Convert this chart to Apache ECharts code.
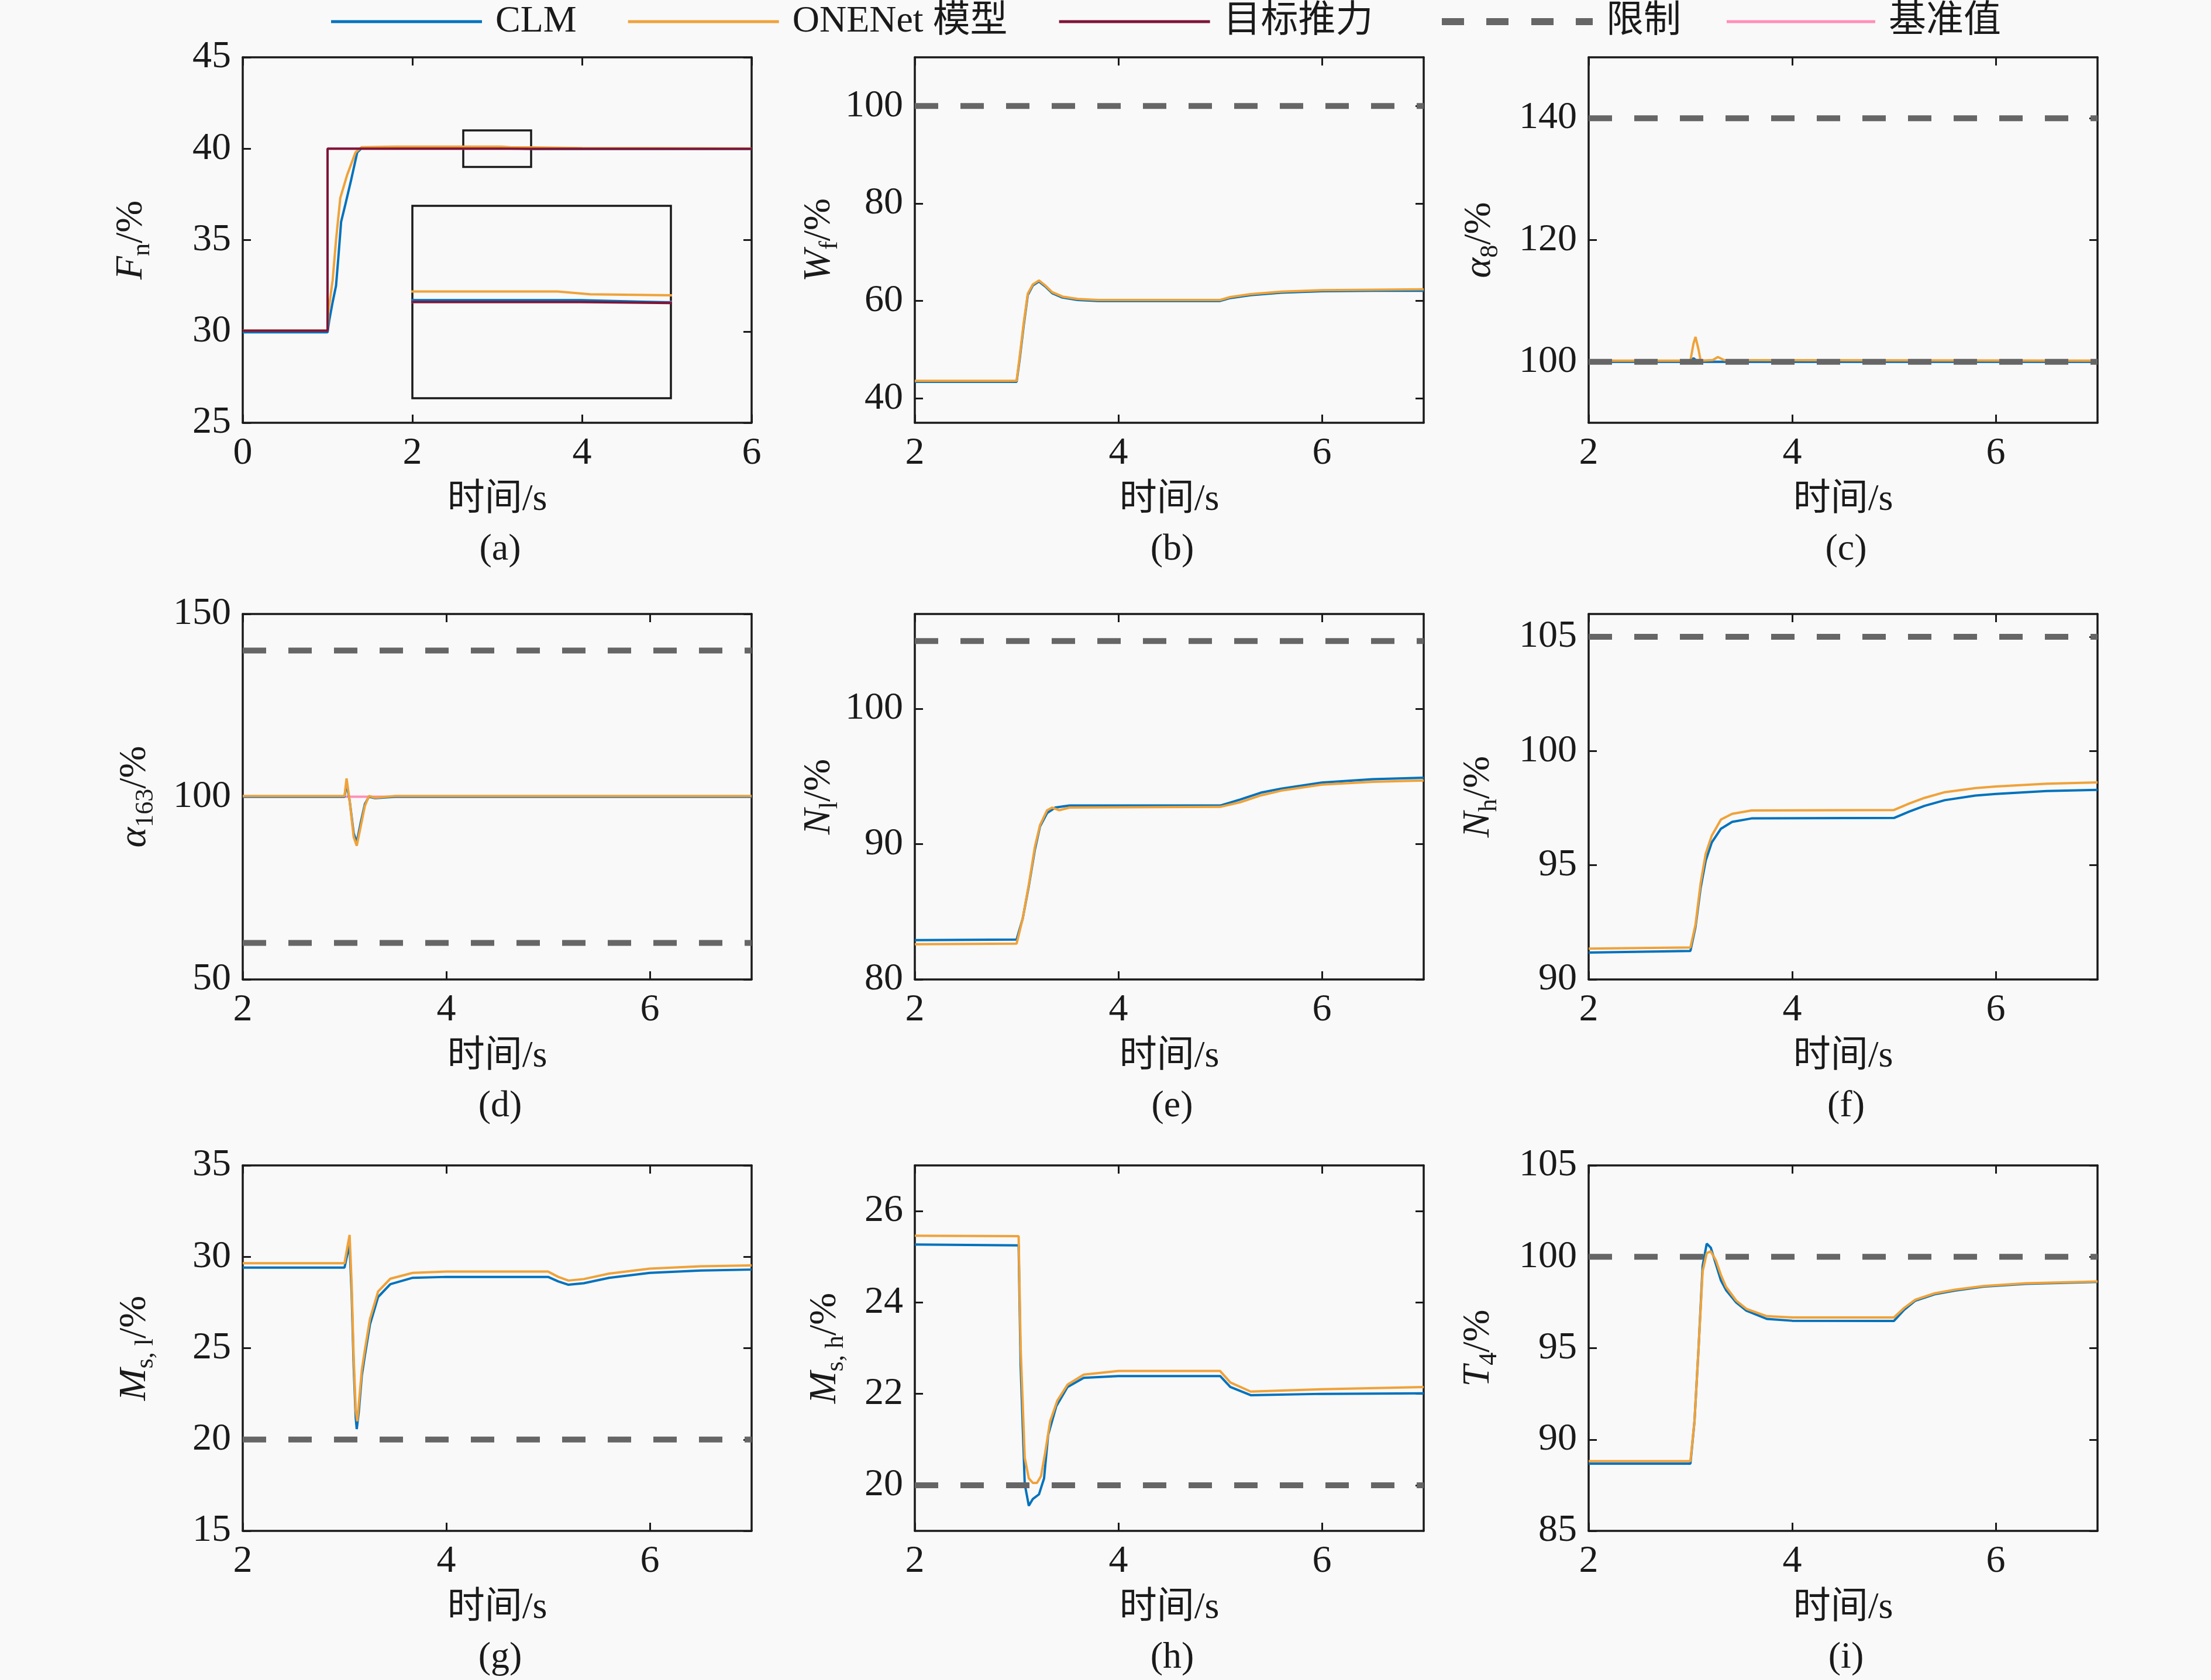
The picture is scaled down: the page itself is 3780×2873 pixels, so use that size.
<!DOCTYPE html>
<html>
<head>
<meta charset="utf-8">
<title>仿真曲线</title>
<script src="https://cdn.jsdelivr.net/npm/echarts@6/dist/echarts.min.js"></script>
<style>
html, body { margin: 0; padding: 0; background: #f9f9f9; }
#main { width: 3780px; height: 2873px; }
</style>
</head>
<body>
<div id="main"></div>
<script type="text/javascript">
// ---- data: [time s, value %] ----
var fnClm = [[0,29.95],[1.0,29.95],[1.02,30.6],[1.06,31.6],[1.10,32.5],[1.13,34.2],[1.16,36.0],[1.21,36.95],[1.28,38.33],[1.35,39.8],[1.4,40.02],[3.12,40.02],[3.4,39.995],[6,39.995]];
var fnOne = [[0,30.05],[1.0,30.05],[1.01,31.1],[1.06,32.8],[1.10,35.0],[1.15,37.3],[1.23,38.55],[1.33,39.8],[1.4,40.08],[1.8,40.11],[3.05,40.11],[3.15,40.08],[3.4,40.07],[4,40.03],[6,40.01]];
var fnTarget = [[0,30.04],[1.0,30.04],[1.0,40.0],[3.12,40.0],[3.4,39.99],[6,39.99]];
var fnBase = [[0,30.0],[1.0,30.0],[1.0,40.0],[6,40.0]];

var wfClm = [[2,43.4],[3.0,43.4],[3.03,48],[3.07,55],[3.11,61.2],[3.16,63.2],[3.22,64.0],[3.28,63.0],[3.35,61.6],[3.45,60.7],[3.6,60.2],[3.8,60.0],[5.0,60.0],[5.1,60.6],[5.3,61.2],[5.6,61.7],[6.0,62.0],[6.5,62.1],[7,62.1]];
var wfOne = [[2,43.6],[3.0,43.6],[3.03,48.5],[3.07,55.5],[3.11,61.5],[3.16,63.4],[3.22,64.2],[3.28,63.2],[3.35,61.8],[3.45,60.9],[3.6,60.4],[3.8,60.2],[5.0,60.2],[5.1,60.8],[5.3,61.4],[5.6,61.9],[6.0,62.2],[6.5,62.3],[7,62.4]];
var wfLimits = [100];

var a8Clm = [[2,100],[3.0,100],[3.03,100.6],[3.06,100.2],[3.1,100],[7,100]];
var a8One = [[2,100.2],[3.0,100.2],[3.03,103],[3.05,104.1],[3.08,102],[3.1,100.2],[3.22,100.3],[3.27,100.8],[3.33,100.3],[7,100.2]];
var a8Base = [[2,100],[7,100]];
var a8Limits = [140, 100];

var a163Clm = [[2,100],[3.0,100],[3.02,103.5],[3.05,99],[3.09,90],[3.12,87.5],[3.16,93],[3.2,98],[3.24,100],[3.3,99.6],[3.5,100],[7,100]];
var a163One = [[2,100.2],[3.0,100.2],[3.02,105],[3.05,99],[3.09,89],[3.12,86.6],[3.16,92],[3.2,97.5],[3.24,100.2],[3.3,99.7],[3.5,100.2],[7,100.2]];
var a163Base = [[2,100],[7,100]];
var a163Limits = [140, 60];

var nlClm = [[2,82.9],[3.0,82.95],[3.06,84.5],[3.12,86.9],[3.18,89.6],[3.23,91.3],[3.3,92.3],[3.38,92.7],[3.52,92.85],[5.0,92.85],[5.2,93.3],[5.4,93.8],[5.6,94.1],[6.0,94.55],[6.5,94.8],[7,94.9]];
var nlOne = [[2,82.6],[3.0,82.65],[3.06,84.5],[3.12,87.0],[3.18,89.8],[3.23,91.4],[3.3,92.5],[3.35,92.7],[3.42,92.5],[3.52,92.7],[5.0,92.75],[5.2,93.1],[5.4,93.6],[5.6,93.95],[6.0,94.4],[6.5,94.6],[7,94.7]];
var nlLimits = [105];

var nhClm = [[2,91.18],[3.0,91.25],[3.05,92.3],[3.1,94.0],[3.15,95.2],[3.21,96.0],[3.3,96.6],[3.41,96.9],[3.6,97.05],[5.0,97.07],[5.15,97.35],[5.3,97.6],[5.5,97.85],[5.8,98.05],[6.0,98.12],[6.5,98.25],[7,98.3]];
var nhOne = [[2,91.35],[3.0,91.4],[3.05,92.4],[3.1,94.2],[3.15,95.5],[3.21,96.3],[3.3,97.0],[3.41,97.25],[3.6,97.4],[5.0,97.42],[5.15,97.7],[5.3,97.95],[5.5,98.2],[5.8,98.38],[6.0,98.45],[6.5,98.57],[7,98.63]];
var nhLimits = [105];

var mslClm = [[2,29.41],[3.0,29.41],[3.03,30.2],[3.05,30.6],[3.07,28],[3.09,24],[3.11,21.2],[3.12,20.57],[3.14,21.5],[3.17,23.5],[3.2,24.6],[3.25,26.3],[3.33,27.8],[3.45,28.5],[3.67,28.85],[4,28.9],[5.0,28.9],[5.1,28.65],[5.2,28.47],[5.35,28.55],[5.6,28.85],[6.0,29.12],[6.5,29.25],[7,29.3]];
var mslOne = [[2,29.65],[3.0,29.65],[3.03,30.6],[3.05,31.2],[3.07,28.5],[3.09,24.5],[3.11,21.6],[3.125,21.0],[3.14,21.9],[3.17,23.8],[3.2,24.9],[3.25,26.6],[3.33,28.1],[3.45,28.8],[3.67,29.12],[4,29.19],[5.0,29.19],[5.1,28.9],[5.2,28.7],[5.35,28.78],[5.6,29.08],[6.0,29.35],[6.5,29.48],[7,29.53]];
var mslLimits = [20];

var mshClm = [[2,25.27],[3.02,25.25],[3.04,22.6],[3.08,20.03],[3.12,19.55],[3.16,19.7],[3.22,19.8],[3.27,20.15],[3.31,21.1],[3.39,21.73],[3.5,22.15],[3.66,22.35],[4,22.39],[5,22.39],[5.1,22.15],[5.3,21.97],[6,22.0],[7,22.01]];
var mshOne = [[2,25.46],[3.02,25.45],[3.04,23.0],[3.08,20.6],[3.12,20.15],[3.16,20.05],[3.2,20.05],[3.24,20.2],[3.28,20.7],[3.33,21.4],[3.4,21.85],[3.5,22.2],[3.66,22.42],[4,22.5],[5,22.5],[5.1,22.25],[5.3,22.05],[6,22.1],[7,22.15]];
var mshLimits = [20];

var t4Clm = [[2,88.68],[3.0,88.68],[3.04,91],[3.08,95],[3.12,99.5],[3.16,100.72],[3.2,100.5],[3.25,99.6],[3.3,98.7],[3.35,98.18],[3.45,97.5],[3.55,97.05],[3.75,96.6],[4,96.5],[5,96.49],[5.1,97.1],[5.21,97.6],[5.4,97.95],[5.6,98.15],[5.88,98.37],[6.3,98.52],[7,98.62]];
var t4One = [[2,88.82],[3.0,88.82],[3.04,91],[3.08,95],[3.12,99.2],[3.16,100.2],[3.2,100.3],[3.25,99.8],[3.3,99.0],[3.35,98.35],[3.45,97.6],[3.55,97.15],[3.75,96.75],[4,96.68],[5,96.68],[5.1,97.2],[5.21,97.65],[5.4,98.0],[5.6,98.2],[5.88,98.4],[6.3,98.55],[7,98.65]];
var t4Limits = [100];

// axis ranges and tick values
var xRanges = [[0,6],[2,7],[2,7],[2,7],[2,7],[2,7],[2,7],[2,7],[2,7]];
var xTicks = [[0,2,4,6],[2,4,6],[2,4,6],[2,4,6],[2,4,6],[2,4,6],[2,4,6],[2,4,6],[2,4,6]];
var yRanges = [[25,45],[35,110],[90,150],[50,150],[80,107],[90,106],[15,35],[19,27],[85,105]];
var yTicks = [[25,30,35,40,45],[40,60,80,100],[100,120,140],[50,100,150],[80,90,100],[90,95,100,105],[15,20,25,30,35],[20,22,24,26],[85,90,95,100,105]];
var ySymbols = [['F','n'],['W','f'],['α','8'],['α','163'],['N','l'],['N','h'],['M','s, l'],['M','s, h'],['T','4']];
var subLabels = ['(a)','(b)','(c)','(d)','(e)','(f)','(g)','(h)','(i)'];
var names = ['CLM','ONENet 模型','目标推力','限制','基准值'];

var panelData = [
    {clm: fnClm, one: fnOne, target: fnTarget, base: fnBase, limits: []},
    {clm: wfClm, one: wfOne, limits: wfLimits},
    {clm: a8Clm, one: a8One, base: a8Base, limits: a8Limits},
    {clm: a163Clm, one: a163One, base: a163Base, limits: a163Limits},
    {clm: nlClm, one: nlOne, limits: nlLimits},
    {clm: nhClm, one: nhOne, limits: nhLimits},
    {clm: mslClm, one: mslOne, limits: mslLimits},
    {clm: mshClm, one: mshOne, limits: mshLimits},
    {clm: t4Clm, one: t4One, limits: t4Limits}
];

// ---- layout / style ----
var serif = "'Liberation Serif', 'Noto Sans CJK SC', serif";
var colors = {clm: '#0072BD', one: '#EFA23A', target: '#7E1538', limit: '#666666', base: '#FF8FB8'};
var colLeft = [415, 1564, 2716];
var rowTop = [98, 1050, 1993];
var gw = 870, gh = 625;
var nameGaps = [150, 117, 146, 144, 118, 148, 144, 113, 148];
var ink = '#1a1a1a';

var myChart = echarts.init(document.getElementById('main'));

var grids = [], xAxes = [], yAxes = [], series = [], titles = [];

function lineSeries(name, data, ax, color, width, dash) {
    return {
        name: name, type: 'line', data: data,
        xAxisIndex: ax, yAxisIndex: ax,
        showSymbol: false, symbol: 'none', animation: false,
        lineStyle: {color: color, width: width, type: dash || 'solid'},
        itemStyle: {color: color}
    };
}

function boxAxis(pos, gi, range, ticks, label) {
    return {
        type: 'value', gridIndex: gi, position: pos,
        min: range[0], max: range[1],
        axisLine: {show: true, onZero: false, lineStyle: {color: ink, width: 3.5}},
        axisTick: {show: true, inside: true, length: 14, customValues: ticks, lineStyle: {color: ink, width: 3}},
        axisLabel: {show: label, customValues: ticks, margin: 20, color: ink, fontFamily: serif, fontSize: 66},
        splitLine: {show: false}
    };
}

for (var i = 0; i < 9; i++) {
    var gLeft = colLeft[i % 3], gTop = rowTop[Math.floor(i / 3)];
    grids.push({left: gLeft, top: gTop, width: gw, height: gh, containLabel: false});

    var xb = boxAxis('bottom', i, xRanges[i], xTicks[i], true);
    xb.name = '时间/s';
    xb.nameLocation = 'middle';
    xb.nameGap = 100;
    xb.nameTextStyle = {color: ink, fontFamily: serif, fontSize: 64};
    xAxes.push(xb);
    xAxes.push(boxAxis('top', i, xRanges[i], xTicks[i], false));

    var yl = boxAxis('left', i, yRanges[i], yTicks[i], true);
    yl.name = '{i|' + ySymbols[i][0] + '}{s|' + ySymbols[i][1] + '}{n|/%}';
    yl.nameLocation = 'middle';
    yl.nameGap = nameGaps[i];
    yl.nameRotate = 90;
    yl.nameTextStyle = {
        color: ink,
        rich: {
            i: {fontFamily: serif, fontStyle: 'italic', fontSize: 66, lineHeight: 80, color: ink},
            s: {fontFamily: serif, fontSize: 44, lineHeight: 40, verticalAlign: 'bottom', color: ink},
            n: {fontFamily: serif, fontSize: 66, lineHeight: 80, color: ink}
        }
    };
    yAxes.push(yl);
    yAxes.push(boxAxis('right', i, yRanges[i], yTicks[i], false));

    titles.push({
        text: subLabels[i], left: gLeft + gw / 2, top: gTop + gh + 180, textAlign: 'center',
        textStyle: {color: ink, fontFamily: serif, fontSize: 64, fontWeight: 'normal'}
    });

    var ax = 2 * i, p = panelData[i];
    if (p.base) series.push(lineSeries(names[4], p.base, ax, colors.base, 4));
    var clmS = lineSeries(names[0], p.clm, ax, colors.clm, 4);
    series.push(clmS);
    series.push(lineSeries(names[1], p.one, ax, colors.one, 4));
    if (p.target) series.push(lineSeries(names[2], p.target, ax, colors.target, 4));
    for (var k = 0; k < p.limits.length; k++) {
        var r = xRanges[i];
        series.push(lineSeries(names[3], [[r[0], p.limits[k]], [r[1], p.limits[k]]], ax, colors.limit, 10, [40, 38]));
    }
    if (i === 0) {
        // small box marking the zoomed region
        clmS.markArea = {
            silent: true, label: {show: false},
            itemStyle: {color: 'rgba(0,0,0,0)', borderColor: ink, borderWidth: 3.5},
            data: [[{coord: [2.6, 41]}, {coord: [3.4, 39]}]]
        };
    }
}

// inset of panel (a)
grids.push({left: 705, top: 352, width: 442, height: 329, show: true, borderColor: ink, borderWidth: 3.5, backgroundColor: 'rgba(0,0,0,0)', containLabel: false});
xAxes.push({type: 'value', gridIndex: 9, min: 2.6, max: 3.4, show: false});
yAxes.push({type: 'value', gridIndex: 9, min: 39, max: 41, show: false});
series.push(lineSeries(names[4], fnBase, 18, colors.base, 4));
series.push(lineSeries(names[0], fnClm, 18, colors.clm, 4));
series.push(lineSeries(names[1], fnOne, 18, colors.one, 4));
series.push(lineSeries(names[2], fnTarget, 18, colors.target, 4));

var legendText = {color: ink, fontFamily: serif, fontSize: 64, padding: [0, 0, 0, 18]};
var dashIcon = 'path://M0,0h38v12h-38z M76,0h38v12h-38z M153,0h38v12h-38z M229,0h29v12h-29z';

var option = {
    backgroundColor: '#f9f9f9',
    animation: false,
    title: titles,
    legend: [
        {data: names.slice(0, 3), icon: 'rect', top: 0, left: 561, itemWidth: 258, itemHeight: 5, itemGap: 88, textStyle: legendText},
        {data: [{name: names[3], icon: dashIcon}], top: 0, left: 2460, itemWidth: 258, itemHeight: 12, textStyle: legendText},
        {data: [names[4]], icon: 'rect', top: 0, left: 2947, itemWidth: 254, itemHeight: 5, textStyle: legendText}
    ],
    grid: grids,
    xAxis: xAxes,
    yAxis: yAxes,
    series: series
};

myChart.setOption(option);
</script>
</body>
</html>
